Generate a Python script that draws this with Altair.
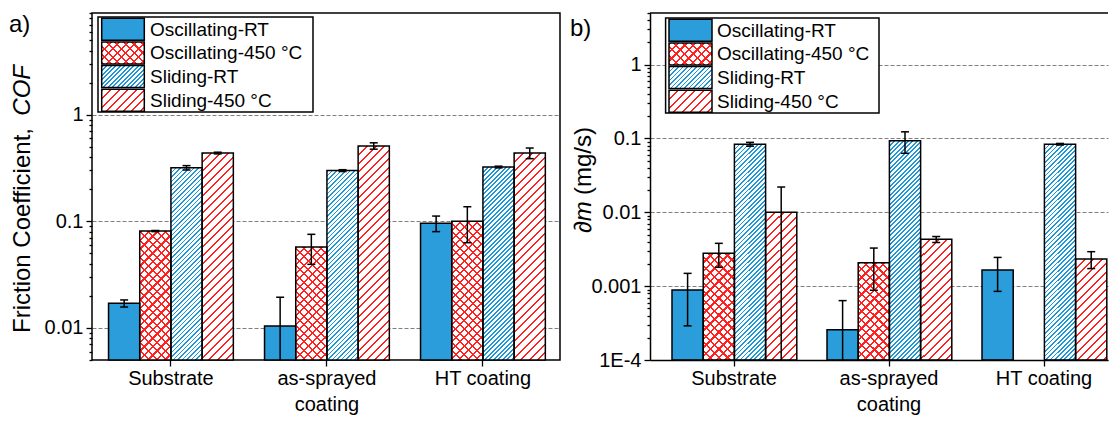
import math
import altair as alt

categories = ["Substrate", "as-sprayed coating", "HT coating"]
series = ["Oscillating-RT", "Oscillating-450 °C", "Sliding-RT", "Sliding-450 °C"]

# panel a) friction coefficient (per series, per category)
cof_osc_rt = [0.0170, 0.0104, 0.0960]
cof_osc_450 = [0.0810, 0.0575, 0.1000]
cof_sl_rt = [0.318, 0.299, 0.323]
cof_sl_450 = [0.437, 0.510, 0.437]
cof_err_osc_rt = [0.0013, 0.0090, 0.0160]
cof_err_osc_450 = [0.0010, 0.0180, 0.0370]
cof_err_sl_rt = [0.015, 0.006, 0.006]
cof_err_sl_450 = [0.008, 0.035, 0.050]

# panel b) wear rate (mg/s)
wear_osc_rt = [0.00089, 0.000257, 0.00165]
wear_osc_450 = [0.0028, 0.00208, None]
wear_sl_rt = [0.0836, 0.093, 0.0836]
wear_sl_450 = [0.0100, 0.0043, 0.00233]
wear_err_osc_rt = [0.0006, 0.00038, 0.0008]
wear_err_osc_450 = [0.0010, 0.0012, None]
wear_err_sl_rt = [0.005, 0.030, 0.002]
wear_err_sl_450 = [0.012, 0.0004, 0.0006]

FONT = "Liberation Sans"
BLUE = "#1e97d8"
RED = "#ff2020"
DOT_BLUE = "#2b9dda"
CLEAR = "rgba(255,255,255,0)"


def stripe_fill(w, h, color, period, thick, direction, bg):
    L = w + h
    stops = []
    k = 0
    while k * period < L:
        s = k * period / L
        e = min((k * period + thick) / L, 1.0)
        n = min((k + 1) * period / L, 1.0)
        stops += [{"offset": round(s, 5), "color": color},
                  {"offset": round(e, 5), "color": color},
                  {"offset": round(e, 5), "color": bg},
                  {"offset": round(n, 5), "color": bg}]
        k += 1
    d = w * w + h * h
    dx, dy = w * L / d, h * L / d
    if direction == "/":
        x1, y1, x2, y2 = 0, 0, dx, dy
    else:
        x1, y1, x2, y2 = 0, 1, dx, 1 - dy
    return {"gradient": "linear", "x1": x1, "y1": y1, "x2": x2, "y2": y2,
            "stops": stops}


def fills(name, w, h):
    if name == "Oscillating-RT":
        return DOT_BLUE, "transparent"
    if name == "Oscillating-450 °C":
        return (stripe_fill(w, h, RED, 8.5, 2.2, "/", "white"),
                stripe_fill(w, h, RED, 8.5, 2.2, "\\", CLEAR))
    if name == "Sliding-RT":
        return stripe_fill(w, h, BLUE, 4.5, 1.8, "/", "white"), "transparent"
    return stripe_fill(w, h, RED, 8.5, 2.0, "/", "white"), "transparent"


DEC = "abs(log(datum.value)/LN10 - round(log(datum.value)/LN10)) < 0.001"
ONE = alt.Data(values=[{"k": 0}])


def text_at(text, x, y, **kw):
    return alt.Chart(ONE).mark_text(text=text, font=FONT, color="black", **kw).encode(
        x=alt.value(x), y=alt.value(y))


def panel(vals, errs, ymin, ymax, W, H, po, al, label_expr, open_frame,
          legend_box, sw_x, txt_x, tag, tag_x, tag_y, titles):
    step = W / (3 - 0.2 + 2 * po)
    bw = step * 0.8 / 4
    span = math.log10(ymax) - math.log10(ymin)
    rows = []
    for ci, c in enumerate(categories):
        for si, s in enumerate(series):
            v = vals[si][ci]
            e = errs[si][ci]
            if v is None:
                continue
            h = H * (math.log10(v) - math.log10(ymin)) / span
            f1, f2 = fills(s, bw, h)
            rows.append({"cat": c, "series": s, "v": v, "e": e, "f1": f1, "f2": f2})

    yvals = []
    k = math.floor(math.log10(ymin))
    while 10.0 ** k <= ymax * 1.0001:
        for m in range(1, 10):
            val = float(f"{m}e{k}")
            if ymin * 0.9999 <= val <= ymax * 1.0001:
                yvals.append(val)
        k += 1

    yscale = alt.Scale(type="log", domain=[ymin, ymax])
    yaxis = alt.Axis(
        values=yvals, labelExpr=label_expr, title=None, grid=True,
        gridDash=[4, 2], gridColor="#808080", gridWidth=1.2,
        gridOpacity={"condition": {"test": DEC, "value": 1}, "value": 0},
        tickSize={"condition": {"test": DEC, "value": 6}, "value": 3},
        tickWidth=1.3, tickColor="black", labelFontSize=20, labelPadding=3,
        labelFont=FONT, labelColor="black", domain=open_frame,
        domainColor="black", domainWidth=1.5)
    xaxis = alt.Axis(
        title=None, labelAngle=0, labelFontSize=20, labelPadding=2, tickSize=6,
        tickWidth=1.3, tickColor="black", labelFont=FONT, labelColor="black",
        labelExpr="datum.label == 'as-sprayed coating' ? ['as-sprayed', 'coating'] : datum.label",
        labelLineHeight=26, domain=open_frame, domainColor="black", domainWidth=1.5)
    xenc = alt.X("cat:N", sort=categories,
                 scale=alt.Scale(paddingInner=0.2, paddingOuter=po, align=al), axis=xaxis)
    xoff = alt.XOffset("series:N", sort=series,
                       scale=alt.Scale(domain=series, paddingInner=0, paddingOuter=0))

    base = alt.Chart(alt.Data(values=rows))
    bars1 = base.mark_rect(strokeWidth=0).encode(
        x=xenc, xOffset=xoff, y=alt.Y("v:Q", scale=yscale, axis=yaxis),
        y2=alt.datum(ymin), fill=alt.Fill("f1:N", scale=None))
    bars2 = base.mark_rect(stroke="black", strokeWidth=1.5).encode(
        x=xenc, xOffset=xoff, y=alt.Y("v:Q", scale=yscale, axis=yaxis),
        y2=alt.datum(ymin), fill=alt.Fill("f2:N", scale=None))
    err = base.transform_calculate(
        lo=f"max(datum.v - datum.e, {ymin})", hi="datum.v + datum.e",
        lov="datum.v - datum.e")
    rule = err.mark_rule(color="black", strokeWidth=1.5).encode(
        x=xenc, xOffset=xoff, y=alt.Y("lo:Q", scale=yscale, axis=yaxis), y2="hi:Q")
    cap = dict(shape="M-1,0L1,0", size=64, filled=False, stroke="black",
               strokeWidth=1.5, opacity=1)
    cap_hi = err.mark_point(**cap).encode(
        x=xenc, xOffset=xoff, y=alt.Y("hi:Q", scale=yscale, axis=yaxis))
    cap_lo = err.transform_filter(f"datum.lov > {ymin}").mark_point(**cap).encode(
        x=xenc, xOffset=xoff, y=alt.Y("lo:Q", scale=yscale, axis=yaxis))

    bx0, by0, bx1, by1 = legend_box
    leg_rows = []
    for i, s in enumerate(series):
        top = by0 + 1.2 + i * 23.7
        f1, f2 = fills(s, sw_x[1] - sw_x[0], 22)
        leg_rows.append({"label": s, "t": top, "b": top + 22, "m": top + 11.5,
                         "f1": f1, "f2": f2})
    frame = alt.Chart(ONE).mark_rect(fill="white", stroke="black", strokeWidth=1.5).encode(
        x=alt.value(bx0), x2=alt.value(bx1), y=alt.value(by0), y2=alt.value(by1))
    lbase = alt.Chart(alt.Data(values=leg_rows))
    sw1 = lbase.mark_rect(strokeWidth=0).encode(
        x=alt.value(sw_x[0]), x2=alt.value(sw_x[1]),
        y=alt.Y("t:Q", scale=None), y2="b:Q", fill=alt.Fill("f1:N", scale=None))
    sw2 = lbase.mark_rect(stroke="black", strokeWidth=1.5).encode(
        x=alt.value(sw_x[0]), x2=alt.value(sw_x[1]),
        y=alt.Y("t:Q", scale=None), y2="b:Q", fill=alt.Fill("f2:N", scale=None))
    ltxt = lbase.mark_text(align="left", baseline="middle", fontSize=19,
                           font=FONT, color="black").encode(
        x=alt.value(txt_x), y=alt.Y("m:Q", scale=None), text="label:N")

    layers = [bars1, bars2, rule, cap_hi, cap_lo, frame, sw1, sw2, ltxt,
              text_at(tag, tag_x, tag_y, align="left", baseline="middle", fontSize=24)]
    for t in titles:
        layers.append(t)
    if open_frame:
        layers.append(alt.Chart(ONE).mark_rule(color="black", strokeWidth=1.5).encode(
            x=alt.value(0), x2=alt.value(W), y=alt.value(0)))
    ch = alt.layer(*layers).properties(width=W, height=H)
    if open_frame:
        ch = ch.properties(view=alt.ViewBackground(stroke="transparent"))
    return ch


H = 347
left = panel(
    [cof_osc_rt, cof_osc_450, cof_sl_rt, cof_sl_450],
    [cof_err_osc_rt, cof_err_osc_450, cof_err_sl_rt, cof_err_sl_450],
    0.005, 9, 468, H, 0.1, 0.53,
    f"({DEC}) ? toString(datum.value) : ''", False,
    (6, 4, 221, 99), (9.7, 52.3), 58, "a)", -83, 12,
    [text_at("Friction Coefficient,", -69, 320, angle=270, align="left",
             baseline="middle", fontSize=24),
     text_at("COF", -69, 52, angle=270, align="right", baseline="middle",
             fontSize=24, fontStyle="italic")])

right = panel(
    [wear_osc_rt, wear_osc_450, wear_sl_rt, wear_sl_450],
    [wear_err_osc_rt, wear_err_osc_450, wear_err_sl_rt, wear_err_sl_450],
    0.0001, 5, 458, H, 0.0774, 0.917,
    f"({DEC}) ? (datum.value < 0.0005 ? '1E-4' : toString(datum.value)) : ''", True,
    (15.6, 5, 229, 100), (19, 62), 67, "b)", -80, 16,
    [text_at("∂m", -66, 220, angle=270, align="left", baseline="middle",
             fontSize=24, fontStyle="italic"),
     text_at("(mg/s)", -66, 114, angle=270, align="right", baseline="middle",
             fontSize=24)])

chart = alt.hconcat(left, right, spacing=8).properties(
    padding={"left": 0, "top": 3, "right": 0, "bottom": 0}
).configure(font=FONT).configure_view(stroke="black", strokeWidth=1.5)

chart.save("out.html", embed_options={"renderer": "svg", "actions": False})
